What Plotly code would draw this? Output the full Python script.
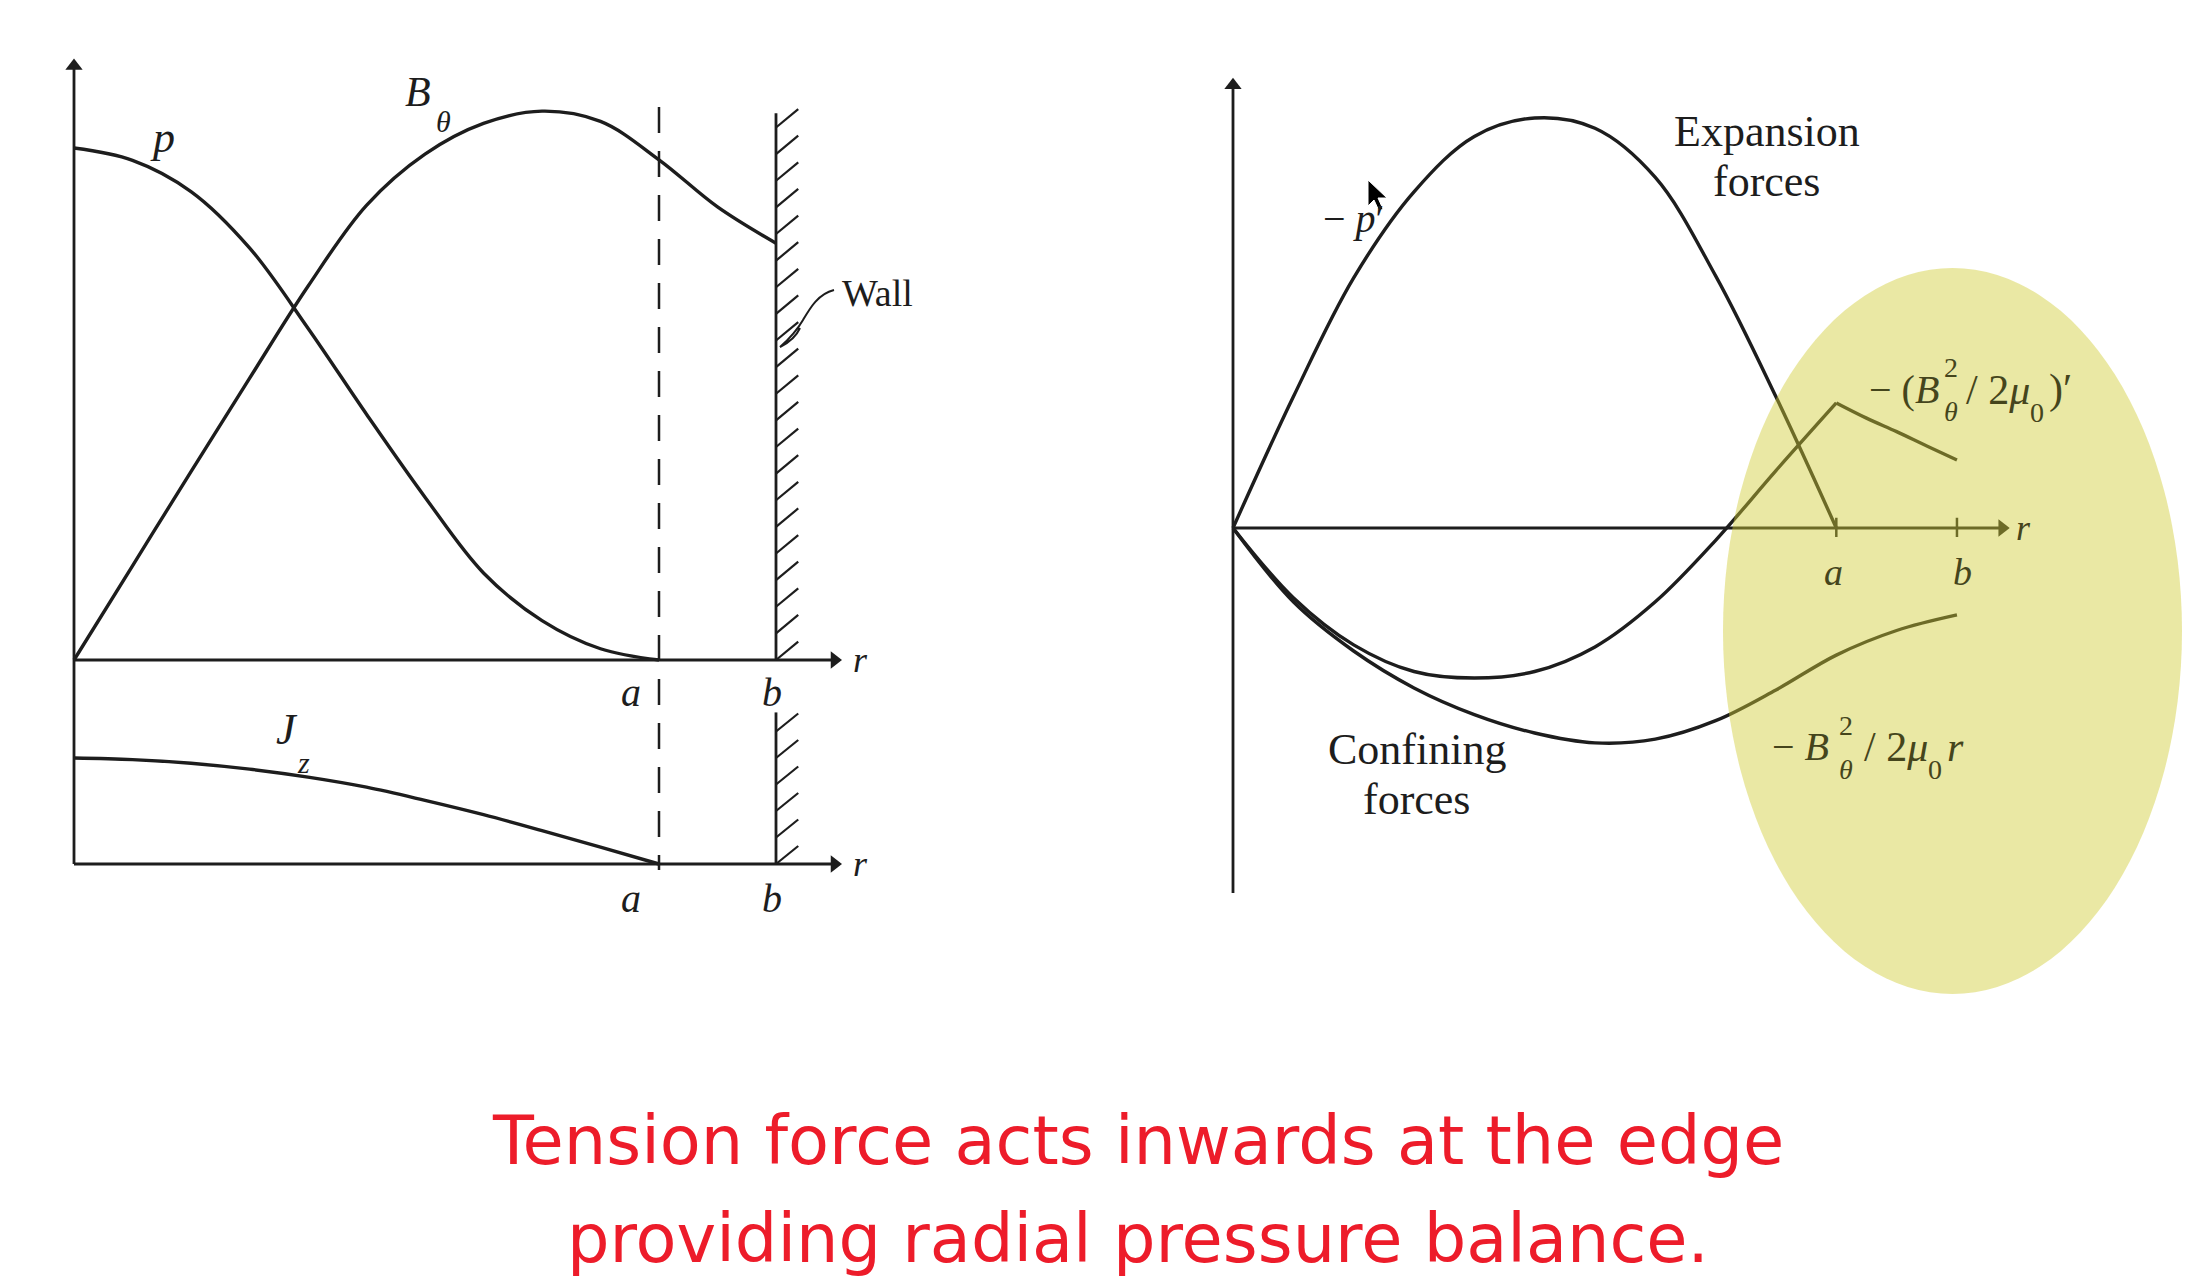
import plotly.graph_objects as go

W, H = 2196, 1284

# ---------------- data (r measured in units of a) ----------------
# left panel, upper: pressure p and poloidal field B_theta
r_p = [0, 0.1, 0.2, 0.3, 0.4, 0.5, 0.6, 0.7, 0.8, 0.9, 1.0]
p_vals = [1.0, 0.976, 0.915, 0.805, 0.648, 0.48, 0.318, 0.17, 0.077, 0.022, 0.0]

r_B = [0, 0.1, 0.2, 0.3, 0.4, 0.5, 0.6, 0.7, 0.8, 0.9, 1.0, 1.1, 1.2]
B_vals = [0, 0.184, 0.368, 0.55, 0.73, 0.888, 0.988, 1.048, 1.072, 1.052, 0.977, 0.885, 0.814]

# left panel, lower: current density J_z
r_J = [0, 0.1, 0.2, 0.3, 0.4, 0.5, 0.6, 0.7, 0.8, 0.9, 1.0]
J_vals = [1.0, 0.985, 0.95, 0.895, 0.82, 0.725, 0.6, 0.465, 0.315, 0.16, 0.0]

# right panel: force terms
r_pp = [0, 0.1, 0.2, 0.3, 0.4, 0.5, 0.6, 0.7, 0.8, 0.9, 1.0]
mpp_vals = [0, 0.32, 0.61, 0.82, 0.955, 1.0, 0.975, 0.855, 0.615, 0.32, 0.0]

r_mb_in = [0, 0.1, 0.2, 0.3, 0.4, 0.5, 0.6, 0.7, 0.8, 0.9, 1.0]
mb_in = [0, -0.17, -0.285, -0.35, -0.366, -0.35, -0.29, -0.18, -0.03, 0.14, 0.305]
r_mb_out = [1.0, 1.05, 1.1, 1.15, 1.2]
mb_out = [0.305, 0.268, 0.235, 0.2, 0.166]

r_mbr = [0, 0.1, 0.2, 0.3, 0.4, 0.5, 0.6, 0.7, 0.8, 0.9, 1.0, 1.1, 1.2]
mbr_vals = [0, -0.18, -0.3, -0.39, -0.455, -0.5, -0.524, -0.515, -0.47, -0.395, -0.31,
            -0.25, -0.212]

tick_names = ["a", "b"]
tick_r = [1.0, 1.2]

title_lines = ["Tension force acts inwards at the edge",
               "providing radial pressure balance."]

# ---------------- styling / layout helpers ----------------
INK = "#1d1d1d"
OLIVE = "#45451c"
SERIF = "Liberation Serif"
LW = 3.4


def xrange_from(px0, unit_px):
    lo = -px0 / unit_px
    return [lo, lo + W / unit_px]


def yrange_from(py0, unit_px):
    lo = -(H - py0) / unit_px
    return [lo, lo + H / unit_px]


# panel scales (origin pixel, pixels per unit)
L_X0, L_XU = 74, 585.0
L1_Y0, L1_YU = 660, 512.0
L2_Y0, L2_YU = 864, 106.0
R_X0, R_XU = 1233, 603.3
R_Y0, R_YU = 528, 410.0

fig = go.Figure()

L1 = ("x", "y")
L2 = ("x2", "y2")
R = ("x3", "y3")


def line(x, y, ax, color=INK, shape="spline"):
    fig.add_trace(go.Scatter(x=x, y=y, mode="lines", xaxis=ax[0], yaxis=ax[1],
                             line=dict(color=color, width=LW, shape=shape, smoothing=1.0),
                             hoverinfo="skip", showlegend=False))


line(r_p, p_vals, L1)
line(r_B, B_vals, L1)
line(r_J, J_vals, L2)
line(r_pp, mpp_vals, R)
line(r_mb_in, mb_in, R)
line(r_mb_out, mb_out, R)
line(r_mbr, mbr_vals, R)

shapes = []
annotations = []


def seg(xref, yref, x0, y0, x1, y1, width=LW, dash=None, color=INK, layer="above"):
    d = dict(type="line", xref=xref, yref=yref, x0=x0, y0=y0, x1=x1, y1=y1,
             line=dict(color=color, width=width), layer=layer)
    if dash:
        d["line"]["dash"] = dash
    shapes.append(d)


def axis_arrow(ax, x0, y0, x1, y1, symbol, color=INK):
    seg(ax[0], ax[1], x0, y0, x1, y1, width=2.8, color=color)
    fig.add_trace(go.Scatter(x=[x1], y=[y1], mode="markers", xaxis=ax[0], yaxis=ax[1],
                             marker=dict(symbol=symbol, size=15, color=color,
                                         line=dict(width=0)),
                             hoverinfo="skip", showlegend=False, cliponaxis=False))


def label(xref, yref, x, y, text, size=40, color=INK, xanchor="center", italic=False,
          family=SERIF):
    if italic:
        text = "<i>" + text + "</i>"
    annotations.append(dict(xref=xref, yref=yref, x=x, y=y, text=text, showarrow=False,
                            xanchor=xanchor, yanchor="middle",
                            font=dict(family=family, size=size, color=color)))


a = tick_r[0]
b = tick_r[1]

# ---- left panel axes ----
axis_arrow(L1, 0, 0, 1.30, 0, "triangle-right")
axis_arrow(L2, 0, 0, 1.30, 0, "triangle-right")
axis_arrow(L1, 0, 0, 0, 1.16, "triangle-up")
seg("x2", "y2", 0, 0, 0, (L2_Y0 - L1_Y0) / L2_YU, width=2.8)
label("x", "y", 1.345, 0.0, "r", 36, italic=True)
label("x2", "y2", 1.345, 0.0, "r", 36, italic=True)

# dashed line at r = a through both panels
seg("x", "y", a, 1.08, a, -0.41, width=2.5, dash="26px,18px")

# wall at r = b
wall_top = 1.068
seg("x", "y", b, 0, b, wall_top, width=2.8)
seg("x2", "y2", b, 0, b, 1.43, width=2.8)
yy = 0.0
while yy < wall_top - 0.02:
    seg("x", "y", b, yy, b + 0.038, yy + 0.036, width=2.2)
    yy += 0.052
yy = 0.0
while yy < 1.35:
    seg("x2", "y2", b, yy, b + 0.038, yy + 0.17, width=2.2)
    yy += 0.25

# left labels
label("x", "y", 0.152, 1.02, "p", 44, italic=True)
label("x", "y", 0.588, 1.11, "B", 42, italic=True)
label("x", "y", 0.632, 1.052, "θ", 30, italic=True)
label("x", "y", 1.309, 0.717, "Wall", 38, xanchor="left")
label("x", "y", a - 0.048, -0.064, tick_names[0], 40, italic=True)
label("x", "y", b - 0.007, -0.064, tick_names[1], 40, italic=True)
label("x2", "y2", a - 0.048, -0.33, tick_names[0], 40, italic=True)
label("x2", "y2", b - 0.007, -0.33, tick_names[1], 40, italic=True)
label("x2", "y2", 0.364, 1.27, "J", 44, italic=True)
label("x2", "y2", 0.392, 0.96, "z", 30, italic=True)

# wall leader line
shapes.append(dict(type="path", xref="x4", yref="y4",
                   path="M 834,290 C 818,294 810,308 803,320 C 796,332 788,340 780,347 "
                        "C 788,343 796,337 800,328",
                   line=dict(color=INK, width=2)))

# ---- right panel axes ----
axis_arrow(R, 0, 0, 1.275, 0, "triangle-right")
axis_arrow(R, 0, -0.89, 0, 1.08, "triangle-up")
for tr in tick_r:
    seg("x3", "y3", tr, -0.022, tr, 0.025, width=2.5)

label("x3", "y3", 0.885, 0.968, "Expansion", 44)
label("x3", "y3", 0.885, 0.846, "forces", 44)
label("x3", "y3", 0.305, -0.541, "Confining", 44)
label("x3", "y3", 0.305, -0.663, "forces", 44)
label("x3", "y3", 0.199, 0.756, "− <i>p</i>′", 40)

# -(B_theta^2 / 2 mu0)'
label("x3", "y3", 1.173, 0.337, "− (<i>B</i>", 40, color=OLIVE, xanchor="right")
label("x3", "y3", 1.19, 0.392, "2", 28, color=OLIVE)
label("x3", "y3", 1.19, 0.283, "<i>θ</i>", 28, color=OLIVE)
label("x3", "y3", 1.212, 0.337, "/ 2<i>μ</i>", 42, color=OLIVE, xanchor="left")
label("x3", "y3", 1.333, 0.282, "0", 28, color=OLIVE)
label("x3", "y3", 1.349, 0.337, ")′", 42, color=OLIVE, xanchor="left")
# -B_theta^2 / 2 mu0 r
label("x3", "y3", 0.992, -0.534, "− <i>B</i>", 40, color=OLIVE, xanchor="right")
label("x3", "y3", 1.016, -0.481, "2", 28, color=OLIVE)
label("x3", "y3", 1.016, -0.588, "<i>θ</i>", 28, color=OLIVE)
label("x3", "y3", 1.042, -0.534, "/ 2<i>μ</i>", 42, color=OLIVE, xanchor="left")
label("x3", "y3", 1.164, -0.59, "0", 28, color=OLIVE)
label("x3", "y3", 1.18, -0.534, "<i>r</i>", 42, color=OLIVE, xanchor="left")
label("x3", "y3", a - 0.005, -0.107, tick_names[0], 38, color=OLIVE, italic=True)
label("x3", "y3", b + 0.01, -0.107, tick_names[1], 38, color=OLIVE, italic=True)
label("x3", "y3", 1.31, 0.0, "r", 36, color=OLIVE, italic=True)

# highlight ellipse (translucent, over the curves)
shapes.append(dict(type="circle", xref="x4", yref="y4", x0=1723, x1=2182, y0=268, y1=994,
                   fillcolor="rgb(208,204,53)", opacity=0.45, line=dict(width=0),
                   layer="above"))

# mouse cursor
shapes.append(dict(type="path", xref="x4", yref="y4",
                   path="M 1368,180 L 1368,206 L 1374,200 L 1379,211 L 1383,209 "
                        "L 1378,198 L 1387,198 Z",
                   fillcolor="black", line=dict(color="white", width=1)))

# bottom caption
for i, txt in enumerate(title_lines):
    annotations.append(dict(xref="paper", yref="paper", x=0.518,
                            y=1 - (1141 + 98 * i) / H,
                            text=txt, showarrow=False, xanchor="center", yanchor="middle",
                            font=dict(family="DejaVu Sans", size=67, color="#ED1C2A")))

ax_common = dict(domain=[0, 1], visible=False, fixedrange=True, showgrid=False,
                 zeroline=False)
fig.update_layout(
    width=W, height=H,
    margin=dict(l=0, r=0, t=0, b=0),
    paper_bgcolor="white", plot_bgcolor="rgba(0,0,0,0)",
    showlegend=False,
    xaxis=dict(ax_common, range=xrange_from(L_X0, L_XU), anchor="y"),
    yaxis=dict(ax_common, range=yrange_from(L1_Y0, L1_YU), anchor="x"),
    xaxis2=dict(ax_common, range=xrange_from(L_X0, L_XU), anchor="y2"),
    yaxis2=dict(ax_common, range=yrange_from(L2_Y0, L2_YU), anchor="x2"),
    xaxis3=dict(ax_common, range=xrange_from(R_X0, R_XU), anchor="y3"),
    yaxis3=dict(ax_common, range=yrange_from(R_Y0, R_YU), anchor="x3"),
    xaxis4=dict(ax_common, range=[0, W], anchor="y4"),
    yaxis4=dict(ax_common, range=[H, 0], anchor="x4"),
    shapes=shapes,
    annotations=annotations,
)

fig.write_html("out.html",
               config={"displayModeBar": False},
               post_script="document.body.style.margin='0';"
                           "document.body.style.overflow='hidden';")
